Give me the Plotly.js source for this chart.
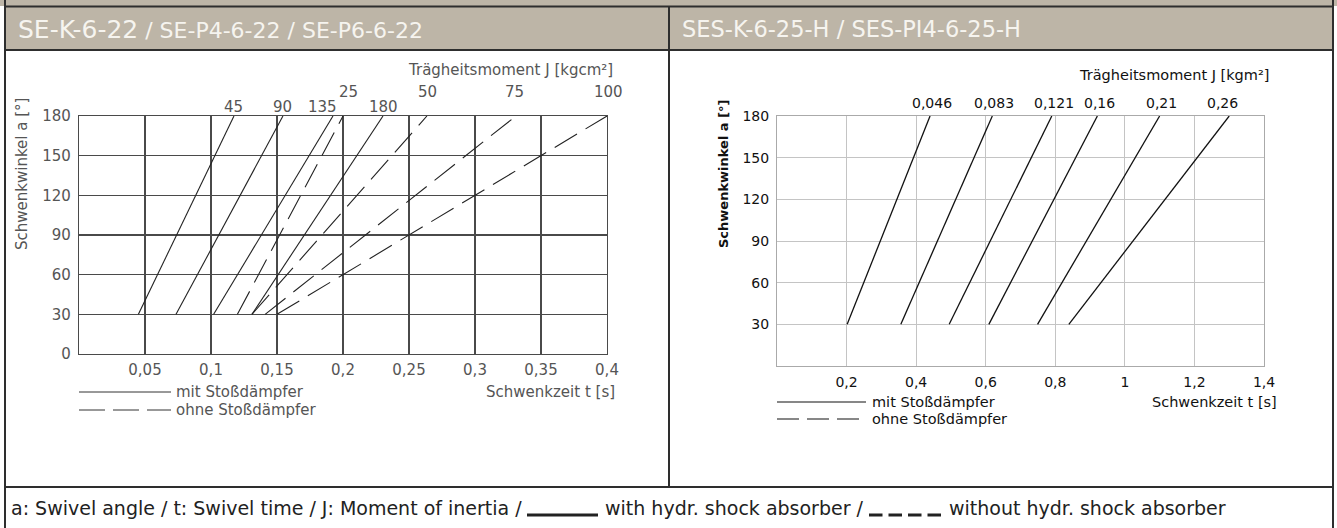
<!DOCTYPE html>
<html>
<head>
<meta charset="utf-8">
<script src="https://cdn.plot.ly/plotly-3.0.1.min.js"></script>
<style>
html,body{margin:0;padding:0;background:#fff;}
#chart{width:1337px;height:528px;}
</style>
</head>
<body>
<div id="chart"></div>
<script>
// ---------- data ----------
const angleRange = [30, 180];

// left chart (SE-K-6-22 ...), Schwenkzeit t [s]
const leftSolidLabels = ['45', '90', '135', '180'];
const leftSolidStart  = [0.045, 0.0735, 0.102, 0.131];
const leftSolidEnd    = [0.1174, 0.1545, 0.1924, 0.2303];
const leftDashedLabels = ['25', '50', '75', '100'];
const leftDashedStart  = [0.12, 0.131, 0.141, 0.15];
const leftDashedEnd    = [0.2, 0.2636, 0.331, 0.4];
const leftXTickVals = [0.05, 0.1, 0.15, 0.2, 0.25, 0.3, 0.35, 0.4];
const leftXTickText = ['0,05', '0,1', '0,15', '0,2', '0,25', '0,3', '0,35', '0,4'];
const leftYTickVals = [0, 30, 60, 90, 120, 150, 180];
const leftYTickText = ['0', '30', '60', '90', '120', '150', '180'];

// right chart (SES-K-6-25-H ...)
const rightLabels = ['0,046', '0,083', '0,121', '0,16', '0,21', '0,26'];
const rightStart  = [0.2017, 0.356, 0.495, 0.609, 0.749, 0.839];
const rightEnd    = [0.44, 0.619, 0.79, 0.921, 1.1, 1.3];
const rightXTickVals = [0.2, 0.4, 0.6, 0.8, 1.0, 1.2, 1.4];
const rightXTickText = ['0,2', '0,4', '0,6', '0,8', '1', '1,2', '1,4'];
const rightYTickVals = [30, 60, 90, 120, 150, 180];
const rightYTickText = ['30', '60', '90', '120', '150', '180'];

// ---------- helpers ----------
const W = 1337, H = 528;
const px = x => x / W;
const py = y => 1 - y / H;
const BEIGE = '#bdb5a7';
const BORDER = '#2e2e2e';
const LFONT = 'DejaVu Sans, Verdana, sans-serif';
const HFONT = 'DejaVu Sans, sans-serif';
const LGRAY = '#555';
const LSIZE = 15;
const RSIZE = 14;

const traces = [];
leftSolidStart.forEach((s, i) => traces.push({
  type: 'scatter', mode: 'lines', x: [s, leftSolidEnd[i]], y: angleRange,
  xaxis: 'x', yaxis: 'y', line: {color: '#222', width: 1.1}, hoverinfo: 'skip', showlegend: false
}));
leftDashedStart.forEach((s, i) => traces.push({
  type: 'scatter', mode: 'lines', x: [s, leftDashedEnd[i]], y: angleRange,
  xaxis: 'x', yaxis: 'y', line: {color: '#222', width: 1.1, dash: '26px,10px'}, hoverinfo: 'skip', showlegend: false
}));
rightStart.forEach((s, i) => traces.push({
  type: 'scatter', mode: 'lines', x: [s, rightEnd[i]], y: angleRange,
  xaxis: 'x2', yaxis: 'y2', line: {color: '#111', width: 1.3}, hoverinfo: 'skip', showlegend: false
}));

const annotations = [];
function ann(text, x, y, o) {
  annotations.push(Object.assign({
    text: text, x: px(x), y: py(y), xref: 'paper', yref: 'paper',
    showarrow: false, xanchor: 'left', yanchor: 'middle',
    font: {family: LFONT, size: LSIZE, color: LGRAY}
  }, o || {}));
}

// line labels left chart
leftSolidLabels.forEach((t, i) => annotations.push({
  text: t, x: leftSolidEnd[i], y: 180, xref: 'x', yref: 'y', showarrow: false,
  xanchor: 'center', yanchor: 'middle', yshift: 9, xshift: (t === '135' ? -10 : 0),
  font: {family: LFONT, size: LSIZE, color: LGRAY}
}));
leftDashedLabels.forEach((t, i) => annotations.push({
  text: t, x: leftDashedEnd[i], y: 180, xref: 'x', yref: 'y', showarrow: false,
  xanchor: 'center', yanchor: 'middle', yshift: 24, xshift: (t === '25' ? 5 : (t === '75' ? -1 : 1)),
  font: {family: LFONT, size: LSIZE, color: LGRAY}
}));
rightLabels.forEach((t, i) => annotations.push({
  text: t, x: rightEnd[i], y: 180, xref: 'x2', yref: 'y2', showarrow: false,
  xanchor: 'center', yanchor: 'middle', yshift: 13, xshift: (i === 5 ? -7 : 2),
  font: {family: LFONT, size: RSIZE, color: '#111'}
}));

// headers
ann('SE-K-6-22<span style="font-size:22px"> / SE-P4-6-22 / SE-P6-6-22</span>', 16, 29,
  {font: {family: HFONT, size: 25, color: '#f6f4ef'}});
ann('SES-K-6-25-H / SES-PI4-6-25-H', 680, 29, {font: {family: HFONT, size: 22.5, color: '#f6f4ef'}});

// titles
ann('Trägheitsmoment J [kgcm²]', 615, 70, {xanchor: 'right'});
ann('Schwenkwinkel a [°]', 22, 174, {xanchor: 'center', textangle: -90});
ann('Schwenkzeit t [s]', 617, 392, {xanchor: 'right'});
ann('mit Stoßdämpfer', 174, 392);
ann('ohne Stoßdämpfer', 174, 410);

const RF = {family: LFONT, size: 14.5, color: '#111'};
ann('Trägheitsmoment J [kgm²]', 1271, 75, {xanchor: 'right', font: RF});
ann('<b>Schwenkwinkel a [°]</b>', 723, 174, {xanchor: 'center', textangle: -90, font: {family: LFONT, size: 13, color: '#111'}});
ann('Schwenkzeit t [s]', 1279, 402, {xanchor: 'right', font: RF});
ann('mit Stoßdämpfer', 870, 402, {font: RF});
ann('ohne Stoßdämpfer', 870, 419, {font: RF});

// footer
const FFONT = {family: HFONT, size: 19, color: '#222'};
ann('a: Swivel angle / t: Swivel time / J: Moment of inertia /', 9, 508, {font: FFONT});
ann('with hydr. shock absorber /', 603, 508, {font: FFONT});
ann('without hydr. shock absorber', 947, 508, {font: FFONT});

const shapes = [];
function rectPx(x0, y0, x1, y1, fill) {
  shapes.push({type: 'rect', xref: 'paper', yref: 'paper', x0: px(x0), x1: px(x1), y0: py(y1), y1: py(y0),
    fillcolor: fill, line: {width: 0}, layer: 'below'});
}
function linePx(x0, y0, x1, y1, color, width, dash) {
  shapes.push({type: 'line', xref: 'paper', yref: 'paper', x0: px(x0), x1: px(x1), y0: py(y0), y1: py(y1),
    line: {color: color, width: width, dash: dash || 'solid'}});
}
rectPx(0, 0, W, 6, BEIGE);
rectPx(5, 7, 1333, 50, BEIGE);
linePx(5, 6.5, 1333, 6.5, BORDER, 2);
linePx(5, 50, 1333, 50, BORDER, 2);
linePx(5, 487, 1333, 487, BORDER, 2);
linePx(5, 0, 5, H, BORDER, 2);
linePx(1333, 0, 1333, H, BORDER, 2);
linePx(669, 6, 669, 487, BORDER, 2);

// legend samples
linePx(79, 392, 171, 392, '#333', 1);
linePx(79, 410, 171, 410, '#333', 1, '26px,8px');
linePx(777, 402, 866, 402, '#111', 1.2);
linePx(777, 419, 866, 419, '#111', 1.2, '22px,8px');

// footer line samples
linePx(527, 515, 598, 515, '#222', 3);
linePx(869, 515, 942, 515, '#222', 3, '13.5px,6px');

// tick marks for dashed-line labels
leftDashedEnd.forEach(v => shapes.push({
  type: 'line', xref: 'x', yref: 'y', x0: v, x1: v, ysizemode: 'pixel', yanchor: 180, y0: 0, y1: 15,
  line: {color: '#333', width: 1.3}
}));

const axL = {family: LFONT, size: LSIZE, color: LGRAY};
const axR = {family: LFONT, size: RSIZE, color: '#111'};

const layout = {
  width: W, height: H,
  margin: {l: 0, r: 0, t: 0, b: 0},
  paper_bgcolor: '#fff', plot_bgcolor: 'rgba(0,0,0,0)',
  showlegend: false,
  xaxis: {
    domain: [px(79), px(607)], range: [0, 0.4], anchor: 'y',
    tickvals: leftXTickVals, ticktext: leftXTickText, ticks: '',
    showgrid: true, gridcolor: '#4a4a4a', gridwidth: 1.1,
    showline: true, mirror: true, linecolor: '#4a4a4a', linewidth: 1.1,
    zeroline: false, tickfont: axL, ticklabelstandoff: 2, fixedrange: true
  },
  yaxis: {
    domain: [py(354), py(116)], range: [0, 180], anchor: 'x',
    tickvals: leftYTickVals, ticktext: leftYTickText, ticks: '',
    showgrid: true, gridcolor: '#4a4a4a', gridwidth: 1.1,
    showline: true, mirror: true, linecolor: '#4a4a4a', linewidth: 1.1,
    zeroline: false, tickfont: axL, ticklabelstandoff: 4, fixedrange: true
  },
  xaxis2: {
    domain: [px(777), px(1264)], range: [0, 1.4], anchor: 'y2',
    tickvals: rightXTickVals, ticktext: rightXTickText, ticks: '',
    showgrid: true, gridcolor: '#c4c4c4', gridwidth: 1,
    showline: true, mirror: true, linecolor: '#aaa', linewidth: 1,
    zeroline: false, tickfont: axR, ticklabelstandoff: 3, fixedrange: true
  },
  yaxis2: {
    domain: [py(366), py(116)], range: [0, 180], anchor: 'x2',
    tickvals: rightYTickVals, ticktext: rightYTickText, ticks: '',
    showgrid: true, gridcolor: '#c4c4c4', gridwidth: 1,
    showline: true, mirror: true, linecolor: '#aaa', linewidth: 1,
    zeroline: false, tickfont: axR, ticklabelstandoff: 4, fixedrange: true
  },
  annotations: annotations,
  shapes: shapes
};

Plotly.newPlot('chart', traces, layout, {staticPlot: true, displayModeBar: false});
</script>
</body>
</html>
